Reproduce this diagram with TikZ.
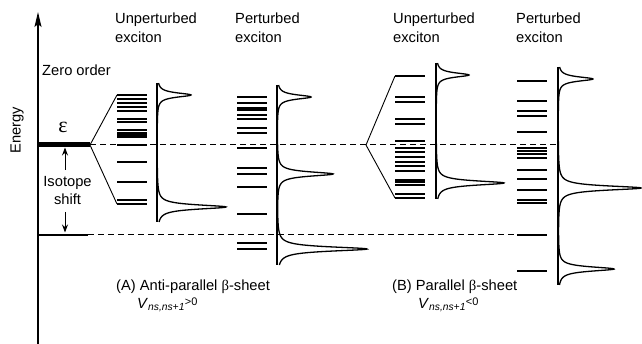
\documentclass[tikz,border=0pt]{standalone}
\usepackage{fontspec}
\setmainfont{Liberation Sans}
\newfontfamily\grk{Liberation Serif}
\usetikzlibrary{arrows.meta}
\newcommand{\vlabel}[1]{\textit{V}\textsubscript{\itshape ns,ns+1}{\fontsize{11}{11}\selectfont\raisebox{3pt}{#1}}}
\begin{document}
\begin{tikzpicture}[x=1pt,y=-1pt,
  txt/.style={inner sep=0pt, font=\fontsize{14.7}{19}\selectfont},
  lev/.style={line width=2pt},
  spec/.style={line width=1.3pt},
  thin/.style={line width=0.9pt},
  dsh/.style={line width=1pt, dash pattern=on 6pt off 4pt}]
\useasboundingbox (0,0) rectangle (642,344);
% energy axis
\coordinate (axb) at (38,344);
\coordinate (axt) at (38,12);
\draw[line width=1.5pt, -{Stealth[length=15pt,width=7pt,inset=3pt]}] (axb) -- (axt);
\node[txt, rotate=90] (energy) at (17,130) {Energy};
\node[txt, anchor=west] (zero) at (42,70) {Zero order};
\node[inner sep=0pt, font=\grk\fontsize{22}{22}\selectfont] (eps) at (63,127) {ε};
% zero-order level and isotope-shifted level
\coordinate (e0) at (38,145);
\coordinate (eA) at (90,145);
\draw[line width=5pt] (e0) -- (eA);
\coordinate (i0) at (38,235);
\coordinate (iA) at (88,235);
\draw[line width=1.2pt] (i0) -- (iA);
\coordinate (dTop) at (558,145);
\coordinate (dBot) at (517,235);
\draw[dsh] (eA) -- (dTop);
\draw[dsh] (iA) -- (dBot);
% isotope shift
\node[txt, align=center, font=\fontsize{14.7}{18}\selectfont] (iso) at (67.5,191) {Isotope\\shift};
\draw[line width=1pt, -{Stealth[length=8pt,width=6pt]}] (65,170) -- (65,147.5);
\draw[line width=1pt, -{Stealth[length=8pt,width=6pt]}] (65,212) -- (65,232.5);
% splitting A
\coordinate (sAt) at (117,95);
\coordinate (sAb) at (117,204);
\draw[thin] (sAt) -- (eA) -- (sAb);
% splitting B
\coordinate (vB) at (366,145);
\coordinate (sBt) at (395,76);
\coordinate (sBb) at (395,198);
\draw[thin] (sBt) -- (vB) -- (sBb);
% unperturbed A levels
\foreach \y in {95,99,103,107,111,119,122,130,133,135,137,145,162,182,200,204}
  \draw[lev] (117,\y) -- (147,\y);
% perturbed A levels
\foreach \y in {97,103,108,110,115,119,128,133,148,168,174,187,214,243,249}
  \draw[lev] (237,\y) -- (267,\y);
% unperturbed B levels
\foreach \y in {76,97,102,119,124,141,148,152,157,162,166,171,180,182,185,194,198}
  \draw[lev] (395,\y) -- (425,\y);
% perturbed B levels
\foreach \y in {81,101,111,116,132,148,151,154,158,170,179,190,200,203,235,271}
  \draw[lev] (517,\y) -- (547,\y);
% spectra
\draw[spec] (157,83) -- (157,222);
\draw[spec] plot[domain=83:222, samples=500, variable=\t]
  ({157 + 34/(1+((\t-95)/2.6)^2) + 69/(1+((\t-207)/2.6)^2)}, \t);
\draw[spec] (277,85) -- (277,265);
\draw[spec] plot[domain=85:265, samples=600, variable=\t]
  ({277 + 34/(1+((\t-97)/2.6)^2) + 56/(1+((\t-174)/2.6)^2) + 90/(1+((\t-249)/2.6)^2)}, \t);
\draw[spec] (436,63) -- (436,199);
\draw[spec] plot[domain=63:199, samples=500, variable=\t]
  ({436 + 33/(1+((\t-75)/2.6)^2) + 68/(1+((\t-183)/2.6)^2)}, \t);
\draw[spec] (558,67) -- (558,285);
\draw[spec] plot[domain=67:285, samples=700, variable=\t]
  ({558 + 35/(1+((\t-79)/2.6)^2) + 83/(1+((\t-188)/2.6)^2) + 56/(1+((\t-269)/2.6)^2)}, \t);
% headings
\node[txt, anchor=west, align=left] (hUA) at (115,27.5) {Unperturbed\\exciton};
\node[txt, anchor=west, align=left] (hPA) at (235,27.5) {Perturbed\\exciton};
\node[txt, anchor=west, align=left] (hUB) at (393,28) {Unperturbed\\exciton};
\node[txt, anchor=west, align=left] (hPB) at (516,28) {Perturbed\\exciton};
% captions
\node[txt, anchor=west] (capA) at (116,287) {(A) Anti-parallel {\grk β}-sheet};
\node[txt, anchor=west] (vA) at (137,305) {\vlabel{>0}};
\node[txt, anchor=west] (capB) at (392,287) {(B) Parallel {\grk β}-sheet};
\node[txt, anchor=west] (vB2) at (418,305) {\vlabel{<0}};
\end{tikzpicture}
\end{document}
